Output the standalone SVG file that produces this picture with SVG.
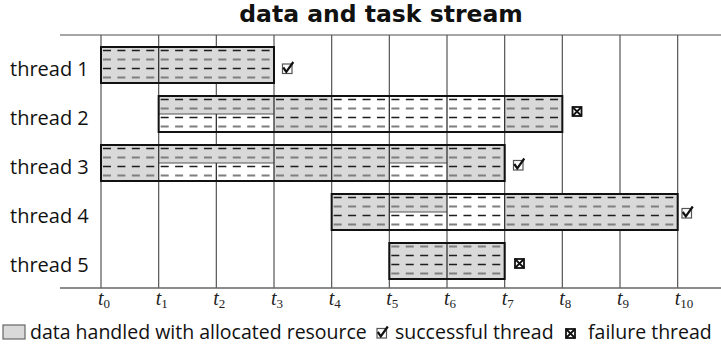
<svg xmlns="http://www.w3.org/2000/svg" width="721" height="350" viewBox="0 0 721 350">
<style>
.title{font-family:"DejaVu Sans",sans-serif;font-weight:bold;font-size:23.5px;fill:#111}
.lbl{font-family:"Open Sans","Liberation Sans",sans-serif;font-size:20px;fill:#111}
.leg{font-family:"Open Sans","Liberation Sans",sans-serif;font-size:19.5px;fill:#111}
.tl{font-family:"Liberation Serif",serif;font-size:20px;fill:#222}
.sub{font-size:13px;font-style:normal}
.grid{stroke:#555;stroke-width:1.2}
.axis{stroke:#666;stroke-width:1.4}
.g{fill:#d9d9d9}
.w{fill:#fff}
.out{fill:none;stroke:#111;stroke-width:2}
.div{stroke:#333;stroke-width:1.3}
.mid{stroke:#555;stroke-width:1.2}
.dk{stroke:#1e1e1e;stroke-width:1.3;stroke-dasharray:8 6.42}
.gy{stroke:#7f7f7f;stroke-width:1.8;stroke-dasharray:8 6.42}
.cb{fill:#fff;stroke:#555;stroke-width:1.2}
.ck{fill:none;stroke:#111;stroke-width:2.2}
.xb{fill:#fff;stroke:#111;stroke-width:1.8}
.xx{stroke:#111;stroke-width:1.8}
</style>
<defs>
<g id="check"><rect class="cb" x="0" y="0" width="9.5" height="9.5"/><path class="ck" d="M0.8 3.5 L3.8 7.8 L10.8 -2"/></g>
<g id="fail"><rect class="xb" x="0" y="0" width="9" height="9"/><path class="xx" d="M0 0 L9 9 M9 0 L0 9"/></g>
</defs>
<text class="title" x="381" y="22" text-anchor="middle">data and task stream</text>
<g id="grid">
<line class="axis" x1="60" y1="35" x2="721" y2="35" style="stroke:#888"/>
<line class="grid" x1="101" y1="35" x2="101" y2="288"/>
<line class="grid" x1="158.67" y1="35" x2="158.67" y2="288"/>
<line class="grid" x1="216.33" y1="35" x2="216.33" y2="288"/>
<line class="grid" x1="274" y1="35" x2="274" y2="288"/>
<line class="grid" x1="331.67" y1="35" x2="331.67" y2="288"/>
<line class="grid" x1="389.33" y1="35" x2="389.33" y2="288"/>
<line class="grid" x1="447" y1="35" x2="447" y2="288"/>
<line class="grid" x1="504.67" y1="35" x2="504.67" y2="288"/>
<line class="grid" x1="562.33" y1="35" x2="562.33" y2="288"/>
<line class="grid" x1="620" y1="35" x2="620" y2="288"/>
<line class="grid" x1="677.67" y1="35" x2="677.67" y2="288"/>
<line class="axis" x1="60" y1="288" x2="721" y2="288"/>
</g>
<g id="axis-labels" class="tl">
<text x="98" y="305"><tspan font-style="italic">t</tspan><tspan class="sub" dy="3">0</tspan></text>
<text x="155.7" y="305"><tspan font-style="italic">t</tspan><tspan class="sub" dy="3">1</tspan></text>
<text x="213.3" y="305"><tspan font-style="italic">t</tspan><tspan class="sub" dy="3">2</tspan></text>
<text x="271" y="305"><tspan font-style="italic">t</tspan><tspan class="sub" dy="3">3</tspan></text>
<text x="328.7" y="305"><tspan font-style="italic">t</tspan><tspan class="sub" dy="3">4</tspan></text>
<text x="386.3" y="305"><tspan font-style="italic">t</tspan><tspan class="sub" dy="3">5</tspan></text>
<text x="444" y="305"><tspan font-style="italic">t</tspan><tspan class="sub" dy="3">6</tspan></text>
<text x="501.7" y="305"><tspan font-style="italic">t</tspan><tspan class="sub" dy="3">7</tspan></text>
<text x="559.3" y="305"><tspan font-style="italic">t</tspan><tspan class="sub" dy="3">8</tspan></text>
<text x="617" y="305"><tspan font-style="italic">t</tspan><tspan class="sub" dy="3">9</tspan></text>
<text x="674.7" y="305"><tspan font-style="italic">t</tspan><tspan class="sub" dy="3">10</tspan></text>
</g>
<g id="thread1">
<text class="lbl" x="10" y="76">thread 1</text>
<rect class="g" x="101" y="47" width="173" height="36"/>
<line class="dk" x1="103" y1="50.5" x2="274" y2="50.5"/>
<line class="gy" x1="103" y1="59.5" x2="274" y2="59.5"/>
<line class="dk" x1="103" y1="68.5" x2="274" y2="68.5"/>
<line class="gy" x1="103" y1="77.5" x2="274" y2="77.5"/>
<line class="div" x1="158.67" y1="47" x2="158.67" y2="83"/>
<rect class="out" x="101" y="47" width="173" height="36"/>
<use href="#check" x="282.5" y="64"/>
</g>
<g id="thread2">
<text class="lbl" x="10" y="125">thread 2</text>
<rect class="g" x="158.67" y="96" width="115.33" height="18"/>
<rect class="w" x="158.67" y="114" width="115.33" height="18"/>
<rect class="g" x="274" y="96" width="57.67" height="36"/>
<rect class="w" x="331.67" y="96" width="173" height="36"/>
<rect class="g" x="504.67" y="96" width="57.66" height="36"/>
<line class="dk" x1="160.67" y1="99.5" x2="562.33" y2="99.5"/>
<line class="gy" x1="160.67" y1="108.5" x2="562.33" y2="108.5"/>
<line class="dk" x1="160.67" y1="117.5" x2="562.33" y2="117.5"/>
<line class="gy" x1="160.67" y1="126.5" x2="562.33" y2="126.5"/>
<line class="mid" x1="158.67" y1="114" x2="274" y2="114"/>
<line class="div" x1="216.33" y1="114" x2="216.33" y2="132"/>
<line class="div" x1="274" y1="96" x2="274" y2="132"/>
<line class="div" x1="331.67" y1="96" x2="331.67" y2="132"/>
<line class="div" x1="389.33" y1="96" x2="389.33" y2="132"/>
<line class="div" x1="447" y1="96" x2="447" y2="132"/>
<line class="div" x1="504.67" y1="96" x2="504.67" y2="132"/>
<rect class="out" x="158.67" y="96" width="403.66" height="36"/>
<use href="#fail" x="572.5" y="107"/>
</g>
<g id="thread3">
<text class="lbl" x="10" y="174">thread 3</text>
<rect class="g" x="101" y="145" width="403.67" height="36"/>
<rect class="w" x="158.67" y="163" width="115.33" height="18"/>
<rect class="w" x="389.33" y="163" width="57.67" height="18"/>
<line class="dk" x1="103" y1="148.5" x2="504.67" y2="148.5"/>
<line class="gy" x1="103" y1="157.5" x2="504.67" y2="157.5"/>
<line class="dk" x1="103" y1="166.5" x2="504.67" y2="166.5"/>
<line class="gy" x1="103" y1="175.5" x2="504.67" y2="175.5"/>
<line class="mid" x1="158.67" y1="163" x2="274" y2="163"/>
<line class="mid" x1="389.33" y1="163" x2="447" y2="163"/>
<line class="div" x1="216.33" y1="163" x2="216.33" y2="181"/>
<line class="div" x1="158.67" y1="145" x2="158.67" y2="181"/>
<line class="div" x1="274" y1="145" x2="274" y2="181"/>
<line class="div" x1="331.67" y1="145" x2="331.67" y2="181"/>
<line class="div" x1="389.33" y1="145" x2="389.33" y2="181"/>
<line class="div" x1="447" y1="145" x2="447" y2="181"/>
<rect class="out" x="101" y="145" width="403.67" height="36"/>
<use href="#check" x="513.5" y="160.5"/>
</g>
<g id="thread4">
<text class="lbl" x="10" y="223">thread 4</text>
<rect class="g" x="331.67" y="194" width="346" height="36"/>
<rect class="w" x="389.33" y="212" width="57.67" height="18"/>
<rect class="w" x="447" y="194" width="57.67" height="36"/>
<line class="dk" x1="333.67" y1="197.5" x2="677.67" y2="197.5"/>
<line class="gy" x1="333.67" y1="206.5" x2="677.67" y2="206.5"/>
<line class="dk" x1="333.67" y1="215.5" x2="677.67" y2="215.5"/>
<line class="gy" x1="333.67" y1="224.5" x2="677.67" y2="224.5"/>
<line class="mid" x1="389.33" y1="212" x2="447" y2="212"/>
<line class="div" x1="389.33" y1="194" x2="389.33" y2="230"/>
<line class="div" x1="447" y1="194" x2="447" y2="230"/>
<line class="div" x1="504.67" y1="194" x2="504.67" y2="230"/>
<rect class="out" x="331.67" y="194" width="346" height="36"/>
<use href="#check" x="682" y="208.5"/>
</g>
<g id="thread5">
<text class="lbl" x="10" y="272">thread 5</text>
<rect class="g" x="389.33" y="243" width="115.34" height="36"/>
<line class="gy" x1="391.33" y1="246.5" x2="504.67" y2="246.5"/>
<line class="dk" x1="391.33" y1="255.5" x2="504.67" y2="255.5"/>
<line class="dk" x1="391.33" y1="264.5" x2="504.67" y2="264.5"/>
<line class="gy" x1="391.33" y1="273.5" x2="504.67" y2="273.5"/>
<line class="div" x1="447" y1="243" x2="447" y2="279"/>
<rect class="out" x="389.33" y="243" width="115.34" height="36"/>
<use href="#fail" x="515" y="259"/>
</g>
<g id="legend">
<rect x="3" y="325" width="22" height="14" fill="#d9d9d9" stroke="#666" stroke-width="1.2"/>
<text class="leg" x="30" y="339">data handled with allocated resource</text>
<use href="#check" x="377" y="328.5"/>
<text class="leg" x="395" y="339">successful thread</text>
<use href="#fail" x="566" y="329"/>
<text class="leg" x="588" y="339">failure thread</text>
</g>
</svg>
